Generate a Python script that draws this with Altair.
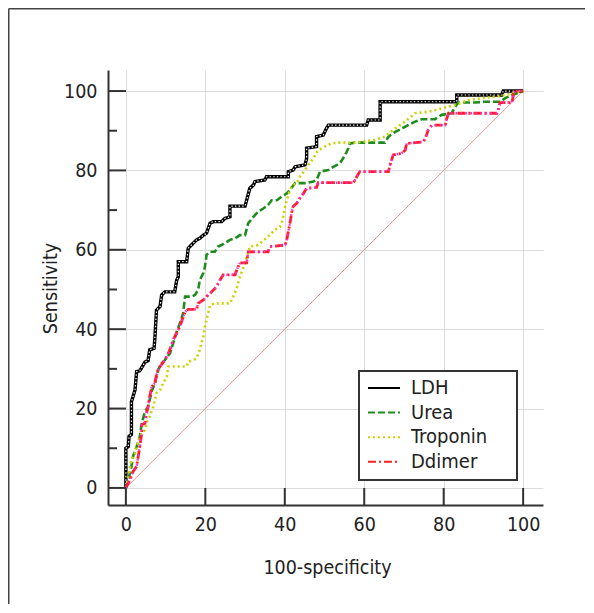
import altair as alt
import pandas as pd

series_names = ["LDH", "Urea", "Troponin", "Ddimer"]
series_colors = ["#000000", "#1e8c1e", "#c9d300", "#ff1f1f"]
series_dash = [[1, 0], [7, 3], [2, 3], [8, 3, 2, 3]]

ldh_x = [0, 0, 0.6, 0.8, 1.4, 1.4, 2.3, 2.7, 3.5, 4.8, 5.6, 6.0, 7.1, 7.3, 7.7, 8.6, 9.0, 9.8, 12.3, 12.8,
         13.2, 13.2, 15.3, 15.7, 16.5, 17.8, 18.6, 19.5, 20.3, 21.2, 22.0, 24.1, 24.9, 26.2, 26.2, 30.0,
         30.4, 31.2, 32.1, 32.5, 35.0, 35.4, 40.9, 40.9, 42.1, 42.6, 45.1, 45.5, 45.5, 48.0, 48.0, 49.7,
         50.5, 51.0, 60.6, 61.0, 64.0, 64.0, 83.3, 83.3, 94.6, 95.0, 100]
ldh_y = [0, 10, 10.4, 13, 13.5, 21.7, 24.7, 29.3, 29.5, 31.7, 32.1, 34.8, 35.2, 37.7, 44.8, 45.7, 48.6, 49.4,
         49.4, 52.4, 53.2, 57.0, 57.0, 60.4, 61.2, 62.5, 62.9, 63.7, 64.2, 66.7, 67.1, 67.1, 67.9, 68.3,
         71.0, 71.0, 72.5, 75.5, 76.3, 77.2, 77.6, 78.4, 78.4, 79.7, 80.1, 80.9, 81.4, 83.0, 85.6, 86.0,
         88.5, 88.9, 90.6, 91.4, 91.4, 92.7, 92.7, 97.3, 97.3, 99.0, 99.0, 100, 100]

urea_x = [0, 0.6, 1.4, 1.8, 2.7, 3.5, 4.0, 4.8, 5.6, 6.5, 7.3, 8.1, 9.0, 9.8, 11.1, 11.9, 12.8, 13.6, 14.4,
          14.9, 16.5, 17.4, 18.2, 18.6, 19.5, 19.9, 20.3, 21.2, 22.4, 23.2, 24.1, 25.4, 26.2, 27.5, 28.7,
          30.0, 30.8, 32.1, 33.3, 34.6, 35.8, 36.7, 38.0, 39.2, 40.5, 41.3, 42.6, 45.1, 47.2, 48.0, 48.9,
          51.0, 52.2, 53.9, 55.2, 56.0, 56.4, 57.7, 65.2, 66.1, 67.8, 70.3, 72.8, 74.5, 77.8, 79.5, 82.0,
          82.9, 83.7, 87.9, 90.4, 94.2, 95.5, 97.2, 100]
urea_y = [0, 2.0, 5.4, 7.9, 10.4, 12.9, 16.3, 19.2, 20.5, 24.3, 26.4, 29.7, 31.4, 32.2, 33.9, 36.4, 39.4,
          41.5, 44.0, 48.2, 48.2, 48.6, 49.9, 52.4, 54.1, 55.7, 58.7, 59.5, 59.5, 60.8, 61.2, 62.0, 62.5,
          62.9, 63.7, 63.7, 66.7, 68.3, 69.6, 70.4, 71.3, 72.5, 72.5, 73.4, 74.2, 75.1, 76.8, 76.8, 77.2,
          77.6, 79.7, 80.1, 80.9, 81.8, 83.9, 85.6, 86.8, 87.0, 87.0, 88.5, 89.7, 91.0, 92.3, 92.9, 92.9,
          94.0, 94.4, 96.0, 97.1, 97.1, 97.3, 97.3, 98.2, 99.0, 100]

trop_x = [0, 0.6, 1.4, 2.3, 3.1, 4.0, 4.8, 5.2, 6.0, 6.9, 7.7, 8.6, 9.4, 10.3, 10.7, 15.3, 15.7, 17.0, 17.8,
          18.6, 19.5, 19.9, 20.3, 21.2, 22.4, 26.2, 27.0, 27.9, 28.7, 30.0, 31.2, 33.3, 34.2, 35.8, 37.5,
          38.8, 39.2, 39.6, 40.1, 40.5, 40.9, 41.3, 42.1, 43.0, 43.8, 45.1, 45.9, 47.2, 48.4, 50.1, 51.8,
          53.5, 57.7, 59.4, 62.7, 65.2, 66.1, 67.8, 70.3, 72.8, 76.1, 79.5, 82.9, 86.2, 89.6, 92.9, 95.5,
          97.2, 100]
trop_y = [0, 2.8, 7.1, 8.7, 11.7, 13.8, 14.6, 16.3, 18.0, 20.5, 23.9, 24.7, 26.4, 28.0, 30.6, 30.6, 31.8,
          32.2, 32.7, 34.8, 38.1, 40.6, 42.3, 46.1, 46.5, 46.5, 48.2, 50.3, 53.2, 56.6, 60.8, 61.2, 62.0,
          63.3, 65.0, 65.8, 66.7, 68.3, 70.9, 72.5, 73.8, 75.1, 76.3, 76.8, 78.4, 80.1, 81.4, 83.0, 85.1,
          86.0, 86.8, 87.0, 87.0, 87.2, 87.7, 88.5, 89.3, 90.6, 92.3, 94.4, 94.8, 95.6, 96.5, 97.7, 98.2,
          98.6, 99.0, 99.4, 100]

ddim_x = [0, 1.0, 1.8, 2.7, 3.1, 3.5, 4.0, 4.0, 4.8, 5.2, 5.6, 6.0, 6.5, 7.3, 7.7, 8.1, 8.6, 9.8, 10.7,
          11.5, 11.9, 13.2, 14.0, 14.9, 15.7, 17.8, 18.2, 19.5, 20.3, 21.6, 22.8, 23.7, 24.5, 27.5, 27.9,
          28.7, 30.4, 30.8, 35.8, 36.3, 40.1, 40.5, 41.3, 41.7, 42.1, 43.0, 43.8, 44.7, 45.5, 48.0, 48.4,
          57.3, 58.1, 58.9, 66.1, 66.5, 67.3, 69.4, 70.3, 70.7, 74.9, 75.7, 76.1, 77.0, 80.4, 80.8, 81.2,
          93.4, 93.8, 94.2, 97.2, 97.6, 98.0, 100]
ddim_y = [0, 2.0, 4.1, 5.4, 7.9, 10.4, 13.8, 15.9, 16.3, 18.8, 20.5, 23.0, 25.5, 26.4, 28.5, 29.7, 30.6,
          32.2, 33.9, 36.0, 37.3, 39.8, 41.9, 44.4, 45.0, 45.0, 46.5, 47.4, 48.2, 49.4, 50.7, 52.4, 53.7,
          53.7, 54.9, 56.7, 56.7, 59.5, 59.5, 60.8, 61.2, 62.5, 66.7, 69.2, 70.9, 71.7, 73.0, 74.2, 75.5,
          75.7, 76.9, 76.9, 78.4, 79.7, 79.7, 81.4, 83.9, 84.3, 85.1, 86.8, 87.2, 88.9, 90.2, 91.4, 91.4,
          93.1, 94.4, 94.4, 95.6, 97.1, 97.1, 99.4, 100, 100]

diag_x = [0, 100]
diag_y = [0, 100]
major_ticks = [0, 20, 40, 60, 80, 100]
minor_ticks = [10, 30, 50, 70, 90]

series_xy = {"LDH": (ldh_x, ldh_y), "Urea": (urea_x, urea_y),
             "Troponin": (trop_x, trop_y), "Ddimer": (ddim_x, ddim_y)}

W, H = 435, 435
FONT = "DejaVu Sans Condensed, sans-serif"
TXT = "#222222"
AX = "#333333"

xscale = alt.Scale(domain=[-4.5, 105], nice=False, zero=False)
yscale = alt.Scale(domain=[-4.3, 105.3], nice=False, zero=False)

xaxis = alt.Axis(values=major_ticks, title="100-specificity", ticks=False, tickSize=0, labelPadding=10,
                 domainColor=AX, domainWidth=2, grid=True, gridColor="#dcdcdc", gridWidth=1,
                 labelFont=FONT, labelFontSize=19.5, labelColor=TXT, labelFlush=False,
                 titleFont=FONT, titleFontSize=19.5, titleFontWeight="normal", titleColor=TXT,
                 titleX=219, titleY=62, titleBaseline="middle", titleAlign="center")
yaxis = alt.Axis(values=major_ticks, title="Sensitivity", ticks=False, tickSize=0, labelPadding=11,
                 domainColor=AX, domainWidth=2, grid=True, gridColor="#dcdcdc", gridWidth=1,
                 labelFont=FONT, labelFontSize=19.5, labelColor=TXT, labelFlush=False,
                 titleFont=FONT, titleFontSize=19.5, titleFontWeight="normal", titleColor=TXT,
                 titleX=-58, titleY=218, titleBaseline="middle", titleAlign="center", titleAngle=270)


def X():
    return alt.X("x:Q", scale=xscale, axis=xaxis)


def Y():
    return alt.Y("y:Q", scale=yscale, axis=yaxis)


one = pd.DataFrame({"a": [0]})

# outer frame: only top and left edges are visible in the reference
frame_top = alt.Chart(one).mark_rule(color="#444444", strokeWidth=1.6).encode(
    x=alt.value(-99.3), x2=alt.value(W + 42), y=alt.value(-61.3))
frame_left = alt.Chart(one).mark_rule(color="#444444", strokeWidth=1.6).encode(
    x=alt.value(-99.3), y=alt.value(-61.3), y2=alt.value(H + 99))

diag = alt.Chart(pd.DataFrame({"x": diag_x, "y": diag_y})).mark_line(
    color="#e07c7c", strokeWidth=1, opacity=0.8).encode(x=X(), y=Y())

xt = alt.Chart(pd.DataFrame({"x": major_ticks})).mark_rule(color=AX, strokeWidth=2).encode(
    x=X(), y=alt.value(H), y2=alt.value(H - 17))
ytm = alt.Chart(pd.DataFrame({"y": major_ticks})).mark_rule(color=AX, strokeWidth=2).encode(
    y=Y(), x=alt.value(0), x2=alt.value(18))
ytn = alt.Chart(pd.DataFrame({"y": minor_ticks})).mark_rule(color=AX, strokeWidth=2).encode(
    y=Y(), x=alt.value(0), x2=alt.value(9))

layers = [frame_top, frame_left, diag]


def sdf(name):
    xs, ys = series_xy[name]
    return pd.DataFrame({"x": xs, "y": ys, "o": list(range(len(xs)))})


# LDH: black line with hollow square look
layers.append(alt.Chart(sdf("LDH")).mark_line(color="#000000", strokeWidth=3.4).encode(
    x=X(), y=Y(), order="o:Q"))
layers.append(alt.Chart(sdf("LDH")).mark_line(color="#ffffff", strokeWidth=1.2, strokeDash=[1.4, 2.2]).encode(
    x=X(), y=Y(), order="o:Q"))
# Urea
layers.append(alt.Chart(sdf("Urea")).mark_line(color="#1e8c1e", strokeWidth=2.6, strokeDash=[7, 3]).encode(
    x=X(), y=Y(), order="o:Q"))
# Troponin
layers.append(alt.Chart(sdf("Troponin")).mark_line(color="#c9d300", strokeWidth=2.6, strokeDash=[2, 3]).encode(
    x=X(), y=Y(), order="o:Q"))
# Ddimer
layers.append(alt.Chart(sdf("Ddimer")).mark_line(color="#ff1f1f", strokeWidth=2.8, strokeDash=[8, 3, 2, 3]).encode(
    x=X(), y=Y(), order="o:Q"))
layers.append(alt.Chart(sdf("Ddimer")).mark_line(color="#ff2ad4", strokeWidth=2.4, strokeDash=[1.5, 3.5]).encode(
    x=X(), y=Y(), order="o:Q"))

layers += [xt, ytm, ytn]

# manual legend
LX0, LY0, LX1, LY1 = 251, 301, 409, 410
layers.append(alt.Chart(one).mark_rect(fill="white", stroke="#333333", strokeWidth=2).encode(
    x=alt.value(LX0), x2=alt.value(LX1), y=alt.value(LY0), y2=alt.value(LY1)))
for i, name in enumerate(series_names):
    yy = 318 + i * 24.6
    layers.append(alt.Chart(one).mark_rule(color=series_colors[i], strokeWidth=2,
                                           strokeDash=series_dash[i]).encode(
        x=alt.value(260), x2=alt.value(292), y=alt.value(yy)))
    layers.append(alt.Chart(one).mark_text(align="left", baseline="middle", font=FONT, fontSize=20,
                                           color=TXT).encode(
        x=alt.value(303), y=alt.value(yy), text=alt.value(name)))

chart = alt.layer(*layers).properties(
    width=W, height=H,
    padding={"left": 100, "top": 62, "right": 43, "bottom": 100},
    autosize=alt.AutoSizeParams(type="none"),
).configure_view(strokeWidth=0)

chart.save("out.html", embed_options={"renderer": "svg", "actions": False})
